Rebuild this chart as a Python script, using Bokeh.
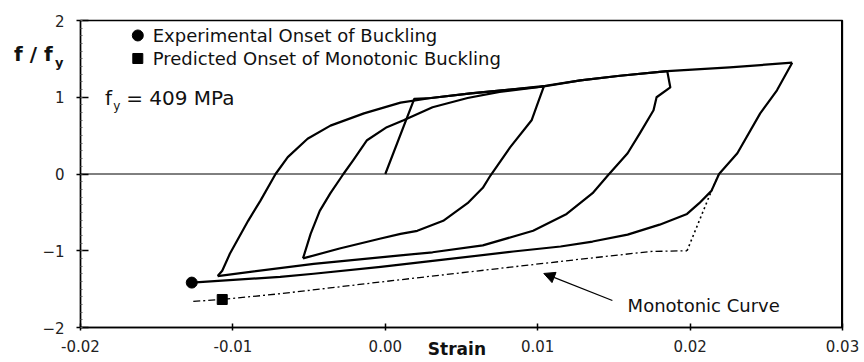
from bokeh.plotting import figure
from bokeh.models import (Range1d, FixedTicker, NumeralTickFormatter, Span, Label,
                          Arrow, NormalHead)
from bokeh.embed import file_html
from bokeh.resources import INLINE

# ---------------- data (strain, f/fy) ----------------
x_ticks = [-0.02, -0.01, 0.0, 0.01, 0.02, 0.03]
y_ticks = [-2, -1, 0, 1, 2]

# initial loading to first peak
load0_x = [0.0, 0.0019, 0.0030, 0.0056, 0.0082, 0.0104]
load0_y = [0.0, 0.98, 0.99, 1.05, 1.10, 1.14]

# unloading from first peak to first compression reversal
unl1_x = [0.0104, 0.0100, 0.0096, 0.0082, 0.0069, 0.0064, 0.0054, 0.0038, 0.0021, 0.0010, -0.0003, -0.0030, -0.0054]
unl1_y = [1.14, 0.92, 0.70, 0.35, -0.02, -0.18, -0.38, -0.61, -0.74, -0.78, -0.84, -0.97, -1.10]

# reloading to second peak
rel1_x = [-0.0054, -0.0049, -0.0043, -0.0036, -0.00275, -0.0021, -0.0012, 0.0001, 0.0012, 0.0031, 0.0054, 0.0075, 0.0104, 0.0128, 0.0154, 0.0185]
rel1_y = [-1.10, -0.78, -0.48, -0.25, 0.0, 0.18, 0.44, 0.61, 0.70, 0.87, 0.99, 1.07, 1.14, 1.22, 1.28, 1.34]

# unloading from second peak to second compression reversal
unl2_x = [0.0185, 0.0187, 0.0178, 0.0176, 0.0167, 0.0159, 0.0146, 0.0136, 0.0119, 0.0097, 0.0064, 0.0031, 0.0010, -0.0047, -0.0110]
unl2_y = [1.34, 1.13, 1.00, 0.83, 0.53, 0.27, -0.02, -0.25, -0.52, -0.74, -0.93, -1.02, -1.06, -1.17, -1.33]

# reloading to third peak
rel2_x = [-0.0110, -0.0107, -0.0102, -0.0090, -0.0082, -0.0072, -0.0064, -0.0051, -0.0036, -0.0014, 0.0010, 0.0030, 0.0056, 0.0082, 0.0105, 0.0128, 0.0154, 0.0185, 0.0226, 0.0267]
rel2_y = [-1.33, -1.26, -1.04, -0.61, -0.35, 0.0, 0.22, 0.46, 0.63, 0.79, 0.93, 0.99, 1.05, 1.10, 1.15, 1.22, 1.28, 1.34, 1.39, 1.45]

# final unloading to onset of buckling
unl3_x = [0.0267, 0.0257, 0.0246, 0.0231, 0.0219, 0.0214, 0.0206, 0.0198, 0.0180, 0.0159, 0.0136, 0.0115, 0.0084, 0.0041, -0.0003, -0.0047, -0.0069, -0.0127]
unl3_y = [1.45, 1.09, 0.79, 0.27, 0.0, -0.22, -0.38, -0.52, -0.66, -0.79, -0.88, -0.945, -1.01, -1.11, -1.21, -1.30, -1.34, -1.415]

# monotonic curve (dash-dot part and dotted elastic part)
mono_x = [-0.0126, -0.0107, -0.0069, 0.0, 0.0128, 0.0174, 0.0198]
mono_y = [-1.66, -1.635, -1.56, -1.40, -1.11, -1.01, -1.00]
mono_el_x = [0.0198, 0.0214, 0.0219]
mono_el_y = [-1.00, -0.22, 0.0]

# onset markers
exp_onset = (-0.0127, -1.415)
pred_onset = (-0.0107, -1.635)

FONT = "DejaVu Sans"
INK = "#111111"

p = figure(width=864, height=362, output_backend="svg", toolbar_location=None,
           x_range=Range1d(-0.02, 0.03), y_range=Range1d(-2, 2),
           min_border_left=79, min_border_right=22, min_border_top=20, min_border_bottom=35,
           background_fill_color="white", border_fill_color="white")
p.grid.visible = False
p.outline_line_color = "black"
p.outline_line_width = 1.3

# axes
p.xaxis.ticker = FixedTicker(ticks=x_ticks)
p.xaxis.formatter = NumeralTickFormatter(format="0.00")
p.yaxis.ticker = FixedTicker(ticks=y_ticks, minor_ticks=[i / 10 for i in range(-20, 21)])
for ax in (p.xaxis[0], p.yaxis[0]):
    ax.axis_line_color = "black"
    ax.axis_line_width = 1.5
    ax.major_tick_line_color = "black"
    ax.major_tick_line_width = 1.5
    ax.major_label_text_font = FONT
    ax.major_label_text_font_size = "15px"
    ax.major_label_text_color = "#222222"
p.xaxis.major_tick_in = 4
p.xaxis.major_tick_out = 3
p.xaxis.minor_tick_in = 0
p.xaxis.minor_tick_out = 0
p.xaxis.major_label_standoff = 9
p.yaxis.major_tick_in = 8
p.yaxis.major_tick_out = 4
p.yaxis.minor_tick_in = 2
p.yaxis.minor_tick_out = 0
p.yaxis.minor_tick_line_color = "#666666"
p.yaxis.major_label_standoff = 12

# thick right border and zero line
p.add_layout(Span(location=0.03, dimension="height", line_color="black", line_width=3))
p.add_layout(Span(location=0, dimension="width", line_color="black", line_width=1))

# hysteresis branches
for bx, by in [(load0_x, load0_y), (unl1_x, unl1_y), (rel1_x, rel1_y),
               (unl2_x, unl2_y), (rel2_x, rel2_y), (unl3_x, unl3_y)]:
    p.line(bx, by, line_color="black", line_width=2.2, line_join="round")

# monotonic curve
p.line(mono_x, mono_y, line_color="black", line_width=1.3, line_dash="7 3 2 3")
p.line(mono_el_x, mono_el_y, line_color="black", line_width=1.6, line_dash="2 3")

# markers on curves
p.scatter([exp_onset[0]], [exp_onset[1]], marker="circle", size=11, color="black")
p.scatter([pred_onset[0]], [pred_onset[1]], marker="square", size=10, color="black")

# legend (drawn manually)
p.scatter([-0.01624], [1.805], marker="circle", size=11, color="black")
p.scatter([-0.01624], [1.505], marker="square", size=10, color="black")
p.add_layout(Label(x=-0.01526, y=1.805, text="Experimental Onset of Buckling", text_font=FONT,
                   text_font_size="18px", text_baseline="middle", text_color=INK))
p.add_layout(Label(x=-0.01526, y=1.505, text="Predicted Onset of Monotonic Buckling", text_font=FONT,
                   text_font_size="18px", text_baseline="middle", text_color=INK))

# f_y = 409 MPa
p.add_layout(Label(x=-0.01840, y=0.99, text="f", text_font=FONT, text_font_size="20px",
                   text_baseline="middle", text_color=INK))
p.add_layout(Label(x=-0.01785, y=0.89, text="y", text_font=FONT, text_font_size="12px",
                   text_baseline="middle", text_color=INK))
p.add_layout(Label(x=-0.01700, y=0.99, text="= 409 MPa", text_font=FONT, text_font_size="20px",
                   text_baseline="middle", text_color=INK))

# axis titles (placed in side panels so they are not clipped by the frame)
p.add_layout(Label(x=-0.02436, y=1.57, text="f / f", text_font=FONT, text_font_size="20px",
                   text_font_style="bold", text_baseline="middle", text_color=INK), "left")
p.add_layout(Label(x=-0.02168, y=1.45, text="y", text_font=FONT, text_font_size="13px",
                   text_font_style="bold", text_baseline="middle", text_color=INK), "right")
p.add_layout(Label(x=0.0047, y=-2.155, text="Strain", text_font=FONT, text_font_size="17px",
                   text_font_style="bold", text_align="center", text_baseline="top",
                   text_color=INK), "above")

# monotonic curve annotation
p.add_layout(Arrow(end=NormalHead(size=11, fill_color="black", line_color="black", line_width=1),
                   x_start=0.0149, y_start=-1.648, x_end=0.0104, y_end=-1.296,
                   line_color="black", line_width=1.3))
p.add_layout(Label(x=0.0159, y=-1.713, text="Monotonic Curve", text_font=FONT,
                   text_font_size="18px", text_baseline="middle", text_color=INK))

open("out.html", "w").write(file_html(p, INLINE))
